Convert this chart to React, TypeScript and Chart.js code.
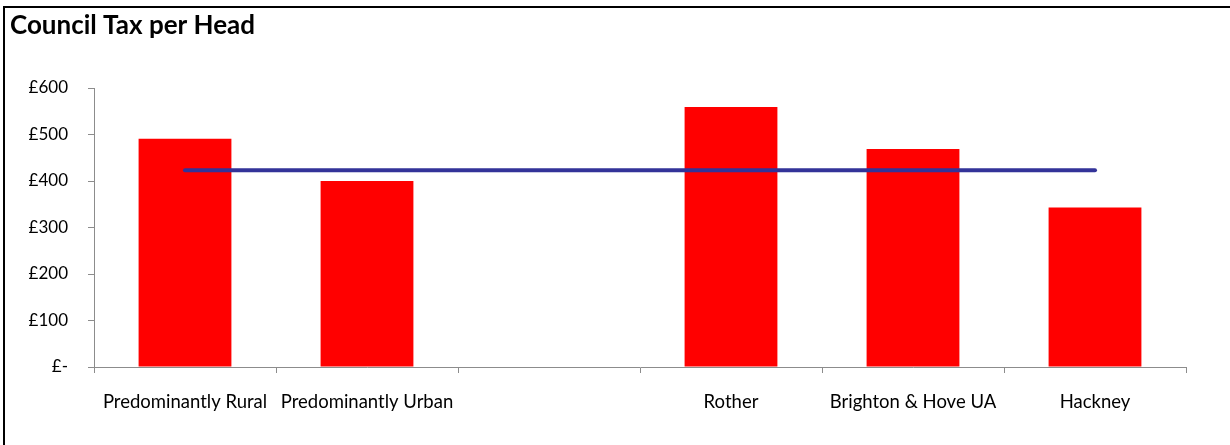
import React, { useEffect, useRef } from "react";
import { Chart, registerables } from "chart.js";

Chart.register(...registerables);

const categories = [
  "Predominantly Rural",
  "Predominantly Urban",
  "",
  "Rother",
  "Brighton & Hove UA",
  "Hackney",
];
const taxPerHead: (number | null)[] = [491, 400, null, 559, 469, 343];
const averageTax = [423, 423, 423, 423, 423, 423];
const yTicks = [0, 100, 200, 300, 400, 500, 600];

const FONT = "Lato";

export default function App() {
  const ref = useRef<HTMLCanvasElement | null>(null);

  useEffect(() => {
    if (!ref.current) return;
    const chart = new Chart(ref.current, {
      type: "bar",
      data: {
        labels: categories,
        datasets: [
          {
            type: "line",
            label: "Average",
            data: averageTax,
            borderColor: "#333399",
            backgroundColor: "#333399",
            borderWidth: 4,
            pointRadius: 0,
            borderCapStyle: "round",
            order: 1,
          } as any,
          {
            type: "bar",
            label: "Council Tax per Head",
            data: taxPerHead,
            backgroundColor: "#ff0000",
            borderWidth: 0,
            barPercentage: 0.51,
            categoryPercentage: 1,
            order: 2,
          },
        ],
      },
      options: {
        animation: false,
        responsive: false,
        layout: { padding: { left: 10, right: 44, top: 0, bottom: 0 } },
        plugins: {
          legend: { display: false },
          tooltip: { enabled: false },
          title: {
            display: true,
            text: "Council Tax per Head",
            align: "start",
            color: "#000",
            font: { family: FONT, weight: "bold", size: 26 },
            padding: { top: 10, bottom: 46.8 },
          },
        },
        scales: {
          x: {
            grid: {
              offset: true,
              drawOnChartArea: false,
              drawTicks: true,
              tickLength: 6,
              color: "#8c8c8c",
            },
            border: { display: true, color: "#8c8c8c" },
            ticks: {
              color: "#000",
              font: { family: FONT, size: 18.5 },
              padding: 18,
              maxRotation: 0,
              autoSkip: false,
            },
            afterFit: (s: any) => {
              s.height = 78;
            },
          },
          y: {
            min: 0,
            max: 600,
            afterBuildTicks: (s: any) => {
              s.ticks = yTicks.map((v) => ({ value: v }));
            },
            grid: {
              drawOnChartArea: false,
              drawTicks: true,
              tickLength: 6,
              color: "#8c8c8c",
            },
            border: { display: true, color: "#8c8c8c" },
            ticks: {
              color: "#000",
              font: { family: FONT, size: 17 },
              padding: 20,
              callback: (v: any) => (Number(v) === 0 ? "£-" : "£" + v),
            },
            afterFit: (s: any) => {
              s.width = 84;
            },
          },
        },
      },
    });
    return () => chart.destroy();
  }, []);

  return (
    <div
      style={{
        position: "fixed",
        left: 0,
        top: 0,
        width: 1230,
        height: 445,
        background: "#fff",
        overflow: "hidden",
      }}
    >
      <div
        style={{
          position: "absolute",
          left: 3,
          top: 6,
          width: 2000,
          height: 1000,
          borderLeft: "2.5px solid #000",
          borderTop: "2.5px solid #000",
          boxSizing: "border-box",
        }}
      />
      <canvas
        ref={ref}
        width={1230}
        height={445}
        style={{ position: "absolute", left: 0, top: 0, width: 1230, height: 445 }}
      />
    </div>
  );
}
